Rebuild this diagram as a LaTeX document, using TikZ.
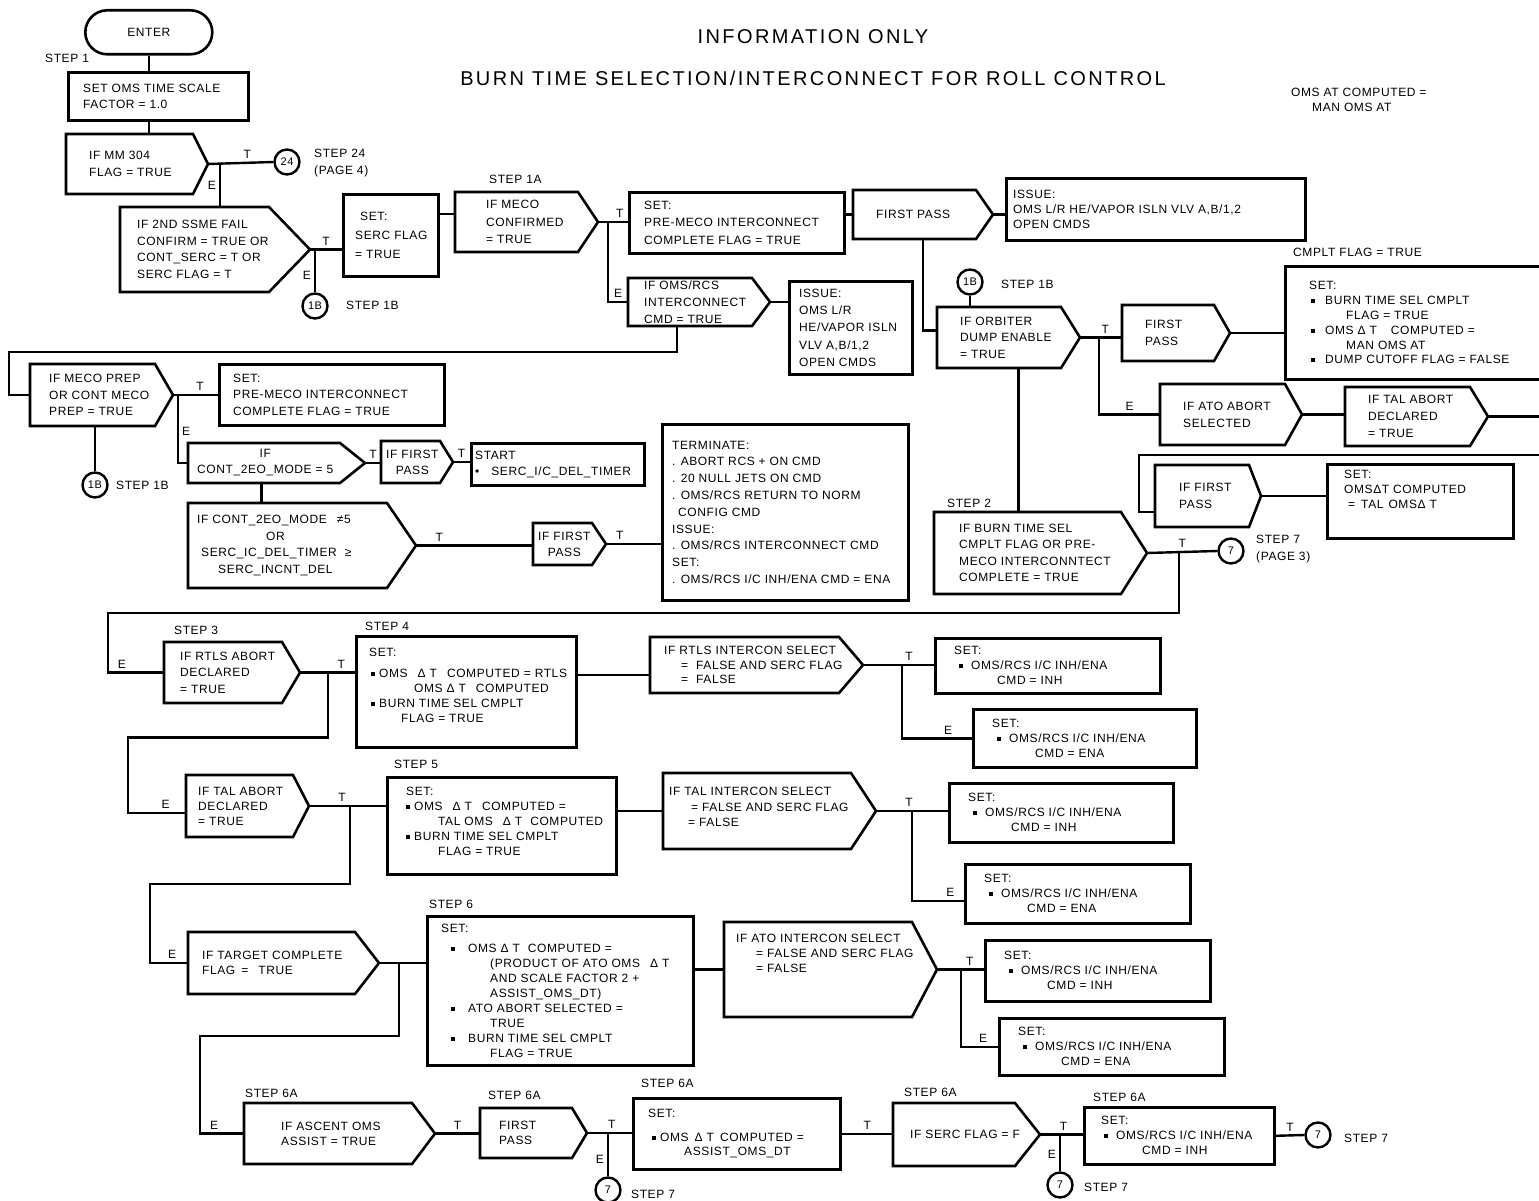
\documentclass[tikz,border=0pt]{standalone}
\usepackage{fontspec}
\setmainfont{Liberation Sans}[LetterSpace=5]
\newfontfamily\titlefont{Liberation Sans}[LetterSpace=12]
\usetikzlibrary{calc}
\newcommand{\sq}{\rule[1.5pt]{4pt}{4pt}}

\begin{document}
\begin{tikzpicture}[x=1pt, y=-1pt, line width=2.4,
    font=\fontsize{12}{16.5}\selectfont,
    box/.style={draw, line width=2.6, anchor=north west, inner sep=0pt},
    wh/.style 2 args={minimum width=#1, minimum height=#2},
    ifbox/.style={anchor=north west, inner sep=0pt, outer sep=0pt,
      append after command={\pgfextra{\draw[line width=2.6]
        (\tikzlastnode.north west) -- ([xshift=-#1]\tikzlastnode.north east)
        -- (\tikzlastnode.east) -- ([xshift=-#1]\tikzlastnode.south east)
        -- (\tikzlastnode.south west) -- cycle;}}},
    txt/.style={anchor=west, align=left, inner sep=0pt, xshift=#1},
    tight/.style={font=\fontsize{12}{15}\selectfont},
    loose/.style={font=\fontsize{12}{17.2}\selectfont},
    con/.style={circle, draw, line width=2.4, minimum size=25, inner sep=0pt,
      font=\fontsize{11}{12}\selectfont},
    note/.style={anchor=west, align=left, inner sep=0pt},
    tf/.style={inner sep=3pt}]
  \useasboundingbox (0,0) rectangle (1539,1201);

  \node[font=\titlefont\fontsize{20}{24}\selectfont] (info) at (813,37) {INFORMATION ONLY};
  \node[font=\titlefont\fontsize{20}{24}\selectfont] (title) at (813,78)
    {BURN TIME SELECTION/INTERCONNECT FOR ROLL CONTROL};
  \node[note, tight] (omsat) at (1290,99.5) {OMS AT COMPUTED =\\\hspace*{21pt}MAN OMS AT};

  \node[box, wh={127}{44}, rounded corners=22] (enter) at (84,9) {ENTER};
  \node[note] (s1) at (44,58) {STEP 1};
  \node[box, wh={180}{48}, label={[txt=15]west:{SET OMS TIME SCALE\\FACTOR = 1.0}}] (scale) at (67,71) {};
  \node[ifbox=15, wh={142}{60}, label={[txt=22]west:{IF MM 304\\FLAG = TRUE}}] (mm304) at (66,134) {};
  \node[con] (cn24) at (287,162) {24};
  \node[note, loose] (s24) at (313,163) {STEP 24\\(PAGE 4)};
  \node[ifbox=41, wh={190}{85}, label={[txt=16]west:{IF 2ND SSME FAIL\\CONFIRM = TRUE OR\\CONT\_SERC = T OR\\SERC FLAG = T}}] (ssme) at (120,207) {};
  \node[con] (cn1b) at (315,306) {1B};
  \node[note] (s1b) at (345,305) {STEP 1B};
  \node[box, wh={95}{82}, label={[txt=12, font=\fontsize{12}{19}\selectfont]west:{\hspace*{5pt}SET:\\SERC FLAG\\= TRUE}}] (serc) at (342,193) {};

  \node[note] (s1a) at (488,179) {STEP 1A};
  \node[ifbox=20, wh={143}{60}, label={[txt=30, loose]west:{IF MECO\\CONFIRMED\\= TRUE}}] (meco) at (455,192) {};
  \node[box, wh={215}{61}, label={[txt=15, loose]west:{SET:\\PRE-MECO INTERCONNECT\\COMPLETE FLAG = TRUE}}] (premeco) at (628,191) {};
  \node[ifbox=18, wh={142}{48}, label={[txt=15, loose]west:{IF OMS/RCS\\INTERCONNECT\\CMD = TRUE}}] (oic) at (628,278) {};
  \node[box, wh={123}{93}, label={[txt=10, loose]west:{ISSUE:\\OMS L/R\\HE/VAPOR ISLN\\VLV A,B/1,2\\OPEN CMDS}}] (issue) at (788,280) {};
  \node[ifbox=17, wh={140}{49}, label={[txt=22]west:{FIRST PASS}}] (fpass) at (853,190) {};
  \node[box, wh={299}{62}, label={[txt=7, tight]west:{ISSUE:\\OMS L/R HE/VAPOR ISLN VLV A,B/1,2\\OPEN CMDS}}] (issueb) at (1005,177) {};

  \node[con] (cn1bb) at (970,282) {1B};
  \node[note] (s1bb) at (1000,284) {STEP 1B};
  \node[ifbox=19, wh={143}{61}, label={[txt=22]west:{IF ORBITER\\DUMP ENABLE\\= TRUE}}] (orbiter) at (937,307) {};
  \node[ifbox=16, wh={108}{56}, label={[txt=22, loose]west:{FIRST\\PASS}}] (fpassb) at (1122,305) {};
  \node[note] (cflag) at (1292,252) {CMPLT FLAG = TRUE};
  \node[box, wh={280}{113}, label={[txt=24, font=\fontsize{12}{14.8}\selectfont]west:{SET:\\\hspace*{2pt}\sq\hspace{10pt}BURN TIME SEL CMPLT\\\hspace*{37pt}FLAG = TRUE\\\hspace*{2pt}\sq\hspace{10pt}OMS Δ T\hspace{14pt}COMPUTED =\\\hspace*{37pt}MAN OMS AT\\\hspace*{2pt}\sq\hspace{10pt}DUMP CUTOFF FLAG = FALSE}}] (cmplt) at (1284,265) {};
  \node[ifbox=17, wh={142}{61}, label={[txt=22, loose]west:{IF ATO ABORT\\SELECTED}}] (atosel) at (1160,384) {};
  \node[ifbox=18, wh={143}{59}, label={[txt=22, loose]west:{IF TAL ABORT\\DECLARED\\= TRUE}}] (talsel) at (1345,387) {};
  \node[ifbox=12, wh={106}{62}, label={[txt=23, loose]west:{IF FIRST\\PASS}}] (fpassc) at (1155,465) {};
  \node[box, wh={186}{74}, label={[txt=17, tight, yshift=12]west:{SET:\\OMSΔT COMPUTED\\\hspace*{4pt}=\hspace{6pt}TAL\hspace{5pt}OMSΔ T}}] (taldt) at (1326,463) {};
  \node[note] (s2) at (946,503) {STEP 2};
  \node[ifbox=26, wh={213}{82}, label={[txt=24]west:{IF BURN TIME SEL\\CMPLT FLAG OR PRE-\\MECO INTERCONNTECT\\COMPLETE = TRUE}}] (burnsel) at (934,512) {};
  \node[con] (cn7) at (1231,551) {7};
  \node[note, loose] (s7) at (1255,549) {STEP 7\\(PAGE 3)};

  \node[ifbox=18, wh={143}{62}, label={[txt=18]west:{IF MECO PREP\\OR CONT MECO\\PREP = TRUE}}] (mecoprep) at (30,364) {};
  \node[box, wh={225}{61}, label={[txt=14]west:{SET:\\PRE-MECO INTERCONNECT\\COMPLETE FLAG = TRUE}}] (premecob) at (218,363) {};
  \node[con] (cn1bc) at (95,485) {1B};
  \node[note] (s1bc) at (115,485) {STEP 1B};
  \node[ifbox=25, wh={177}{40}, label={[txt=8, align=center, font=\fontsize{12}{16}\selectfont]west:{IF\\CONT\_2EO\_MODE = 5}}] (mode5) at (188,443) {};
  \node[ifbox=13, wh={72}{42}, label={[txt=4, align=center, font=\fontsize{12}{16}\selectfont]west:{IF FIRST\\PASS}}] (fpassd) at (381,441) {};
  \node[box, wh={173}{42}, label={[txt=4, font=\fontsize{12}{16}\selectfont]west:{START\\•\hspace{12pt}SERC\_I/C\_DEL\_TIMER}}] (timer) at (470,442) {};
  \node[ifbox=29, wh={228}{85}, label={[txt=8]west:{IF CONT\_2EO\_MODE\hspace{10pt}≠5\\\hspace*{69pt}OR\\\hspace*{4pt}SERC\_IC\_DEL\_TIMER\hspace{8pt}≥\\\hspace*{21pt}SERC\_INCNT\_DEL}}] (modeor) at (188,503) {};
  \node[ifbox=14, wh={73}{42}, label={[txt=4, align=center, font=\fontsize{12}{16}\selectfont]west:{IF FIRST\\PASS}}] (fpasse) at (533,523) {};
  \node[box, wh={246}{176}, label={[txt=10, font=\fontsize{12}{16.8}\selectfont]west:{TERMINATE:\\. ABORT RCS + ON CMD\\. 20 NULL JETS ON CMD\\. OMS/RCS RETURN TO NORM\\\hspace*{6pt}CONFIG CMD\\ISSUE:\\. OMS/RCS INTERCONNECT CMD\\SET:\\. OMS/RCS I/C INH/ENA CMD = ENA}}] (term) at (661,423) {};

  \node[note] (s3) at (173,630) {STEP 3};
  \node[ifbox=18, wh={136}{61}, label={[txt=15]west:{IF RTLS ABORT\\DECLARED\\= TRUE}}] (rtls) at (164,642) {};
  \node[note] (s4) at (364,626) {STEP 4};
  \node[box, wh={220}{111}, label={[txt=13, tight, yshift=6]west:{SET:\\[6pt]\hspace*{2pt}\sq\hspace{4pt}OMS\hspace{10pt}Δ T\hspace{10pt}COMPUTED = RTLS\\\hspace*{45pt}OMS Δ T\hspace{10pt}COMPUTED\\\hspace*{2pt}\sq\hspace{4pt}BURN TIME SEL CMPLT\\\hspace*{32pt}FLAG = TRUE}}] (set4) at (355,635) {};
  \node[ifbox=24, wh={213}{56}, label={[txt=13, font=\fontsize{12}{14.5}\selectfont]west:{IF RTLS INTERCON SELECT\\\hspace*{17pt}=\hspace{8pt}FALSE AND SERC FLAG\\\hspace*{17pt}=\hspace{8pt}FALSE}}] (rtlsic) at (650,637) {};
  \node[box, wh={225}{55}, label={[txt=19, tight]west:{SET:\\\hspace*{5pt}\sq\hspace{8pt}OMS/RCS I/C INH/ENA\\\hspace*{43pt}CMD = INH}}] (inha) at (934,637) {};
  \node[box, wh={223}{58}, label={[txt=19, tight]west:{SET:\\\hspace*{5pt}\sq\hspace{8pt}OMS/RCS I/C INH/ENA\\\hspace*{43pt}CMD = ENA}}] (enaa) at (972,708) {};

  \node[ifbox=16, wh={123}{62}, label={[txt=11, tight]west:{IF TAL ABORT\\DECLARED\\= TRUE}}] (tal) at (186,775) {};
  \node[note] (s5) at (393,764) {STEP 5};
  \node[box, wh={229}{97}, label={[txt=19, tight, yshift=4]west:{SET:\\\sq\hspace{4pt}OMS\hspace{10pt}Δ T\hspace{10pt}COMPUTED =\\\hspace*{32pt}TAL OMS\hspace{10pt}Δ T\hspace{8pt}COMPUTED\\\sq\hspace{4pt}BURN TIME SEL CMPLT\\\hspace*{32pt}FLAG = TRUE}}] (set5) at (386,776) {};
  \node[ifbox=25, wh={213}{76}, label={[txt=5, font=\fontsize{12}{15.5}\selectfont, yshift=4]west:{IF TAL INTERCON SELECT\\\hspace*{22pt}= FALSE AND SERC FLAG\\\hspace*{19pt}= FALSE}}] (talic) at (663,773) {};
  \node[box, wh={224}{59}, label={[txt=19, tight]west:{SET:\\\hspace*{5pt}\sq\hspace{8pt}OMS/RCS I/C INH/ENA\\\hspace*{43pt}CMD = INH}}] (inhb) at (948,782) {};
  \node[box, wh={225}{59}, label={[txt=19, tight]west:{SET:\\\hspace*{5pt}\sq\hspace{8pt}OMS/RCS I/C INH/ENA\\\hspace*{43pt}CMD = ENA}}] (enab) at (964,863) {};

  \node[ifbox=24, wh={191}{62}, label={[txt=13, tight]west:{IF TARGET COMPLETE\\FLAG\hspace{6pt}=\hspace{10pt}TRUE}}] (target) at (188,932) {};
  \node[note] (s6) at (428,904) {STEP 6};
  \node[box, wh={266}{149}, label={[txt=14, tight]west:{SET:\\[5pt]\hspace*{10pt}\sq\hspace{13pt}OMS Δ T\hspace{8pt}COMPUTED =\\\hspace*{49pt}(PRODUCT OF ATO OMS\hspace{10pt}Δ T\\\hspace*{49pt}AND SCALE FACTOR 2 +\\\hspace*{49pt}ASSIST\_OMS\_DT)\\\hspace*{10pt}\sq\hspace{13pt}ATO ABORT SELECTED =\\\hspace*{49pt}TRUE\\\hspace*{10pt}\sq\hspace{13pt}BURN TIME SEL CMPLT\\\hspace*{49pt}FLAG = TRUE}}] (set6) at (426,915) {};
  \node[ifbox=25, wh={213}{95}, label={[txt=11, tight, yshift=16]west:{IF ATO INTERCON SELECT\\\hspace*{20pt}= FALSE AND SERC FLAG\\\hspace*{20pt}= FALSE}}] (atoic) at (724,922) {};
  \node[box, wh={225}{61}, label={[txt=19, tight]west:{SET:\\\hspace*{5pt}\sq\hspace{8pt}OMS/RCS I/C INH/ENA\\\hspace*{43pt}CMD = INH}}] (inhc) at (984,939) {};
  \node[box, wh={225}{57}, label={[txt=19, tight]west:{SET:\\\hspace*{5pt}\sq\hspace{8pt}OMS/RCS I/C INH/ENA\\\hspace*{43pt}CMD = ENA}}] (enac) at (998,1017) {};

  \node[note] (s6a) at (244,1093) {STEP 6A};
  \node[ifbox=23, wh={191}{61}, label={[txt=36, tight]west:{IF ASCENT OMS\\ASSIST = TRUE}}] (ascent) at (244,1103) {};
  \node[note] (s6b) at (487,1095) {STEP 6A};
  \node[ifbox=15, wh={107}{50}, label={[txt=18, tight]west:{FIRST\\PASS}}] (fpassf) at (480,1108) {};
  \node[con] (cn7b) at (608,1190) {7};
  \node[note] (s7b) at (630,1194) {STEP 7};
  \node[note] (s6c) at (640,1083) {STEP 6A};
  \node[box, wh={207}{71}, label={[txt=15, font=\fontsize{12}{14}\selectfont]west:{SET:\\[10pt]\hspace*{4pt}\sq\hspace{4pt}OMS\hspace{6pt}Δ T\hspace{6pt}COMPUTED =\\\hspace*{36pt}ASSIST\_OMS\_DT}}] (set6a) at (632,1097) {};
  \node[note] (s6d) at (903,1092) {STEP 6A};
  \node[ifbox=25, wh={147}{63}, label={[txt=16]west:{IF SERC FLAG = F}}] (sercf) at (893,1103) {};
  \node[con] (cn7c) at (1060,1185) {7};
  \node[note] (s7c) at (1083,1187) {STEP 7};
  \node[note] (s6e) at (1092,1097) {STEP 6A};
  \node[box, wh={190}{57}, label={[txt=17, tight]west:{SET:\\\hspace*{3pt}\sq\hspace{8pt}OMS/RCS I/C INH/ENA\\\hspace*{41pt}CMD = INH}}] (inhd) at (1083,1106) {};
  \node[con] (cn7d) at (1318,1135) {7};
  \node[note] (s7d) at (1343,1138) {STEP 7};

  % top block
  \draw (enter.south) -- (enter.south |- scale.north);
  \draw (enter.south |- scale.south) -- (enter.south |- mm304.north);
  \draw (mm304.east) -- node[tf, above, pos=.6]{T} (cn24.west);
  \coordinate (jA) at ([xshift=12]mm304.east);
  \draw (jA) -- node[tf, left]{E} (jA |- ssme.north);
  \draw (ssme.east) -- node[tf, above]{T} (ssme.east -| serc.west);
  \coordinate (jB) at ([xshift=5]ssme.east);
  \draw (jB) -- node[tf, left, pos=.6]{E} (cn1b.north);
  \draw ([yshift=8]meco.west -| serc.east) -- ([yshift=8]meco.west);
  \draw (meco.east) -- node[tf, above, pos=.73]{T} (meco.east -| premeco.west);
  \coordinate (jC) at ([xshift=10]meco.east);
  \draw (jC) |- node[tf, above, pos=.75]{E} (oic.west);
  \draw (fpass.west -| premeco.east) -- (fpass.west);
  \draw (fpass.east) -- (fpass.east -| issueb.west);
  \draw (oic.east) -- (oic.east -| issue.west);
  \draw ([xshift=-22]oic.south) -- ++(0,26) -| ([xshift=-21]mecoprep.west) -- (mecoprep.west);
  \draw (fpass.south) |- ([yshift=7]orbiter.west);
  \draw (cn1bb.south) -- (cn1bb.south |- orbiter.north);
  \draw (orbiter.east) -- node[tf, above, pos=.6]{T} (orbiter.east -| fpassb.west);
  \coordinate (jD) at ([xshift=19]orbiter.east);
  \draw (jD) |- node[tf, above, pos=.75]{E} (atosel.west);
  \draw (fpassb.east) -- (fpassb.east -| cmplt.west);
  \draw (atosel.east) -- (atosel.east -| talsel.west);
  \draw (talsel.east) -- ++(60,0);
  \coordinate (offB) at (1545,455);
  \draw (offB) -| ([xshift=-16, yshift=-16]fpassc.west) -- ([yshift=-16]fpassc.west);
  \draw (fpassc.east) -- (fpassc.east -| taldt.west);
  \draw ([xshift=10]orbiter.south) -- ([xshift=10]orbiter.south |- burnsel.north);
  \draw (burnsel.east) -- node[tf, above]{T} (cn7.west);
  \coordinate (jE) at ([xshift=32]burnsel.east);
  \draw (jE) -- ++(0,60) -| ([xshift=-56]rtls.west) -- node[tf, above, pos=.25]{E} (rtls.west);

  % left block
  \draw (mecoprep.east) -- node[tf, above, pos=.6]{T} (mecoprep.east -| premecob.west);
  \coordinate (jF) at ([xshift=5]mecoprep.east);
  \draw (jF) |- node[tf, right, pos=.27]{E} (mode5.west);
  \draw (cn1bc.north |- mecoprep.south) -- (cn1bc.north);
  \draw (mode5.east) -- node[tf, above]{T} (mode5.east -| fpassd.west);
  \draw (fpassd.east) -- node[tf, above]{T} (fpassd.east -| timer.west);
  \draw ([xshift=-15]mode5.south) -- ([xshift=-15]mode5.south |- modeor.north);
  \draw (modeor.east) -- node[tf, above, pos=.2]{T} (modeor.east -| fpasse.west);
  \draw (fpasse.east) -- node[tf, above, pos=.25]{T} (fpasse.east -| term.west);

  % abort steps
  \draw (rtls.east) -- node[tf, above, pos=.75]{T} (rtls.east -| set4.west);
  \coordinate (jG) at ([xshift=28]rtls.east);
  \draw (jG) -- ++(0,65) -| ([xshift=-58, yshift=-7]tal.west) -- node[tf, above, pos=.65]{E} ([yshift=-7]tal.west);
  \draw (set4.east |- 0,675) -- (rtlsic.west |- 0,675);
  \draw (rtlsic.east) -- node[tf, above, pos=.65]{T} (rtlsic.east -| inha.west);
  \coordinate (jH) at ([xshift=39]rtlsic.east);
  \draw (jH) |- node[tf, above, pos=.83]{E} (enaa.west);
  \draw (tal.east) -- node[tf, above, pos=.43]{T} (tal.east -| set5.west);
  \coordinate (jI) at ([xshift=41]tal.east);
  \draw (jI) -- ++(0,78) -| ([xshift=-38]target.west) -- node[tf, above, pos=.58]{E} (target.west);
  \draw (talic.west -| set5.east) -- (talic.west);
  \draw (talic.east) -- node[tf, above, pos=.46]{T} (talic.east -| inhb.west);
  \coordinate (jJ) at ([xshift=36]talic.east);
  \draw (jJ) |- node[tf, above, pos=.87]{E} ([yshift=-7]enab.west);
  \draw (target.east) -- (target.east -| set6.west);
  \coordinate (jK) at ([xshift=20]target.east);
  \draw (jK) -- ++(0,73) -| ([xshift=-44]ascent.west) -- node[tf, above, pos=.32]{E} (ascent.west);
  \draw (atoic.west -| set6.east) -- (atoic.west);
  \draw (atoic.east) -- node[tf, above, pos=.7]{T} (atoic.east -| inhc.west);
  \coordinate (jL) at ([xshift=24]atoic.east);
  \draw (jL) |- node[tf, above, pos=.8]{E} (enac.west);

  % step 6A
  \draw (ascent.east) -- node[tf, above]{T} (ascent.east -| fpassf.west);
  \draw (fpassf.east) -- node[tf, above, pos=.55]{T} (fpassf.east -| set6a.west);
  \coordinate (jM) at ([xshift=21]fpassf.east);
  \draw (jM) -- node[tf, left, pos=.6]{E} (cn7b.north);
  \draw (set6a.east) -- node[tf, above]{T} (set6a.east -| sercf.west);
  \draw (sercf.east) -- node[tf, above, pos=.55]{T} (sercf.east -| inhd.west);
  \coordinate (jN) at ([xshift=20]sercf.east);
  \draw (jN) -- node[tf, left, pos=.55]{E} (cn7c.north);
  \draw (inhd.east) -- node[tf, above]{T} (cn7d.west);
\end{tikzpicture}
\end{document}
